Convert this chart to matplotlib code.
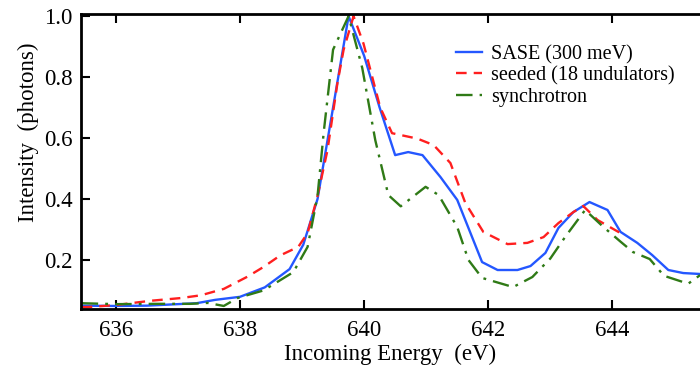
import matplotlib
matplotlib.use("Agg")
from matplotlib import pyplot as plt

plt.rcParams['font.family'] = ['Liberation Serif', 'DejaVu Serif']

# SASE (300 meV)
sase_e = [635.45, 636.0, 636.5, 637.0, 637.3, 637.6, 638.0, 638.4, 638.8, 639.02,
          639.25, 639.45, 639.6, 639.75, 640.0, 640.25, 640.5, 640.71, 640.94, 641.23,
          641.5, 641.9, 642.15, 642.47, 642.68, 642.92, 643.13, 643.37, 643.63, 643.92,
          644.13, 644.4, 644.64, 644.9, 645.14, 645.41]
sase_i = [0.050, 0.049, 0.050, 0.055, 0.058, 0.069, 0.079, 0.11, 0.17, 0.25,
          0.40, 0.64, 0.82, 1.0, 0.87, 0.70, 0.544, 0.554, 0.544, 0.472,
          0.397, 0.193, 0.167, 0.167, 0.18, 0.223, 0.305, 0.357, 0.39, 0.364,
          0.292, 0.256, 0.216, 0.167, 0.157, 0.154]

# seeded (18 undulators)
seed_e = [635.45, 635.6, 636.0, 636.56, 637.05, 637.37, 637.74, 638.12, 638.38, 638.65,
          638.94, 639.09, 639.25, 639.41, 639.57, 639.67, 639.83, 639.99, 640.26, 640.45,
          640.86, 641.12, 641.39, 641.63, 641.92, 642.31, 642.63, 642.89, 643.13, 643.37,
          643.53, 643.76, 644.13]
seed_i = [0.045, 0.046, 0.052, 0.066, 0.075, 0.084, 0.105, 0.145, 0.177, 0.215,
          0.243, 0.288, 0.41, 0.56, 0.78, 0.89, 1.0, 0.91, 0.70, 0.616,
          0.598, 0.577, 0.518, 0.387, 0.292, 0.252, 0.256, 0.275, 0.321, 0.357,
          0.377, 0.331, 0.288]

# synchrotron
sync_e = [635.45, 636.0, 636.7, 637.2, 637.48, 637.74, 637.96, 638.38, 638.86, 639.09,
          639.25, 639.35, 639.5, 639.75, 639.97, 640.18, 640.39, 640.59, 640.99, 641.2,
          641.5, 641.68, 641.9, 642.4, 642.71, 643.0, 643.24, 643.56, 643.85, 644.13,
          644.33, 644.6, 644.83, 645.22, 645.41]
sync_i = [0.058, 0.055, 0.056, 0.056, 0.059, 0.049, 0.075, 0.10, 0.16, 0.243,
          0.41, 0.62, 0.89, 1.0, 0.83, 0.593, 0.413, 0.376, 0.44, 0.413,
          0.308, 0.2, 0.141, 0.111, 0.144, 0.205, 0.276, 0.364, 0.309, 0.26,
          0.226, 0.203, 0.148, 0.122, 0.15]

x_ticks = [636, 638, 640, 642, 644]
y_ticks = [0.2, 0.4, 0.6, 0.8, 1.0]

fig = plt.figure(figsize=(7.0, 3.67), dpi=100)
ax = fig.add_axes([0.1157, 0.158, 0.8843, 0.8038])

ax.plot(sase_e, sase_i, color='#2457ff', lw=1.7, label='SASE (300 meV)')
ax.plot(seed_e, seed_i, color='#ff1f1f', lw=1.7, ls=(0, (4.5, 3)),
        label='seeded (18 undulators)')
ax.plot(sync_e, sync_i, color='#2f7a16', lw=1.7, ls=(0, (7, 3, 1.2, 3)),
        label='synchrotron')

ax.set_xlim(635.44, 645.41)
ax.set_ylim(0.039, 1.007)
ax.set_xticks(x_ticks)
ax.set_yticks(y_ticks)
ax.set_yticklabels([f'{v:.1f}' for v in y_ticks])

for side in ['left', 'bottom', 'top']:
    ax.spines[side].set_linewidth(2.0)
ax.spines['right'].set_visible(False)

ax.tick_params(direction='in', length=6.5, width=1.5, labelsize=16.5,
               top=True, right=False)
ax.tick_params(axis='x', pad=8)
ax.tick_params(axis='y', pad=6)

ax.set_xlabel('Incoming Energy  (eV)', fontsize=16.5, labelpad=2)
ax.set_ylabel('Intensity  (photons)', fontsize=16.5)
ax.yaxis.set_label_coords(-0.068, 0.6)

ax.legend(loc='upper left', bbox_to_anchor=(456 / 700, 1 - 45 / 367),
          bbox_transform=fig.transFigure, frameon=False, fontsize=14.5,
          handlelength=1.3, handletextpad=0.45, labelspacing=0.1,
          borderaxespad=0, borderpad=0)

fig.savefig('out.png', dpi=100)
